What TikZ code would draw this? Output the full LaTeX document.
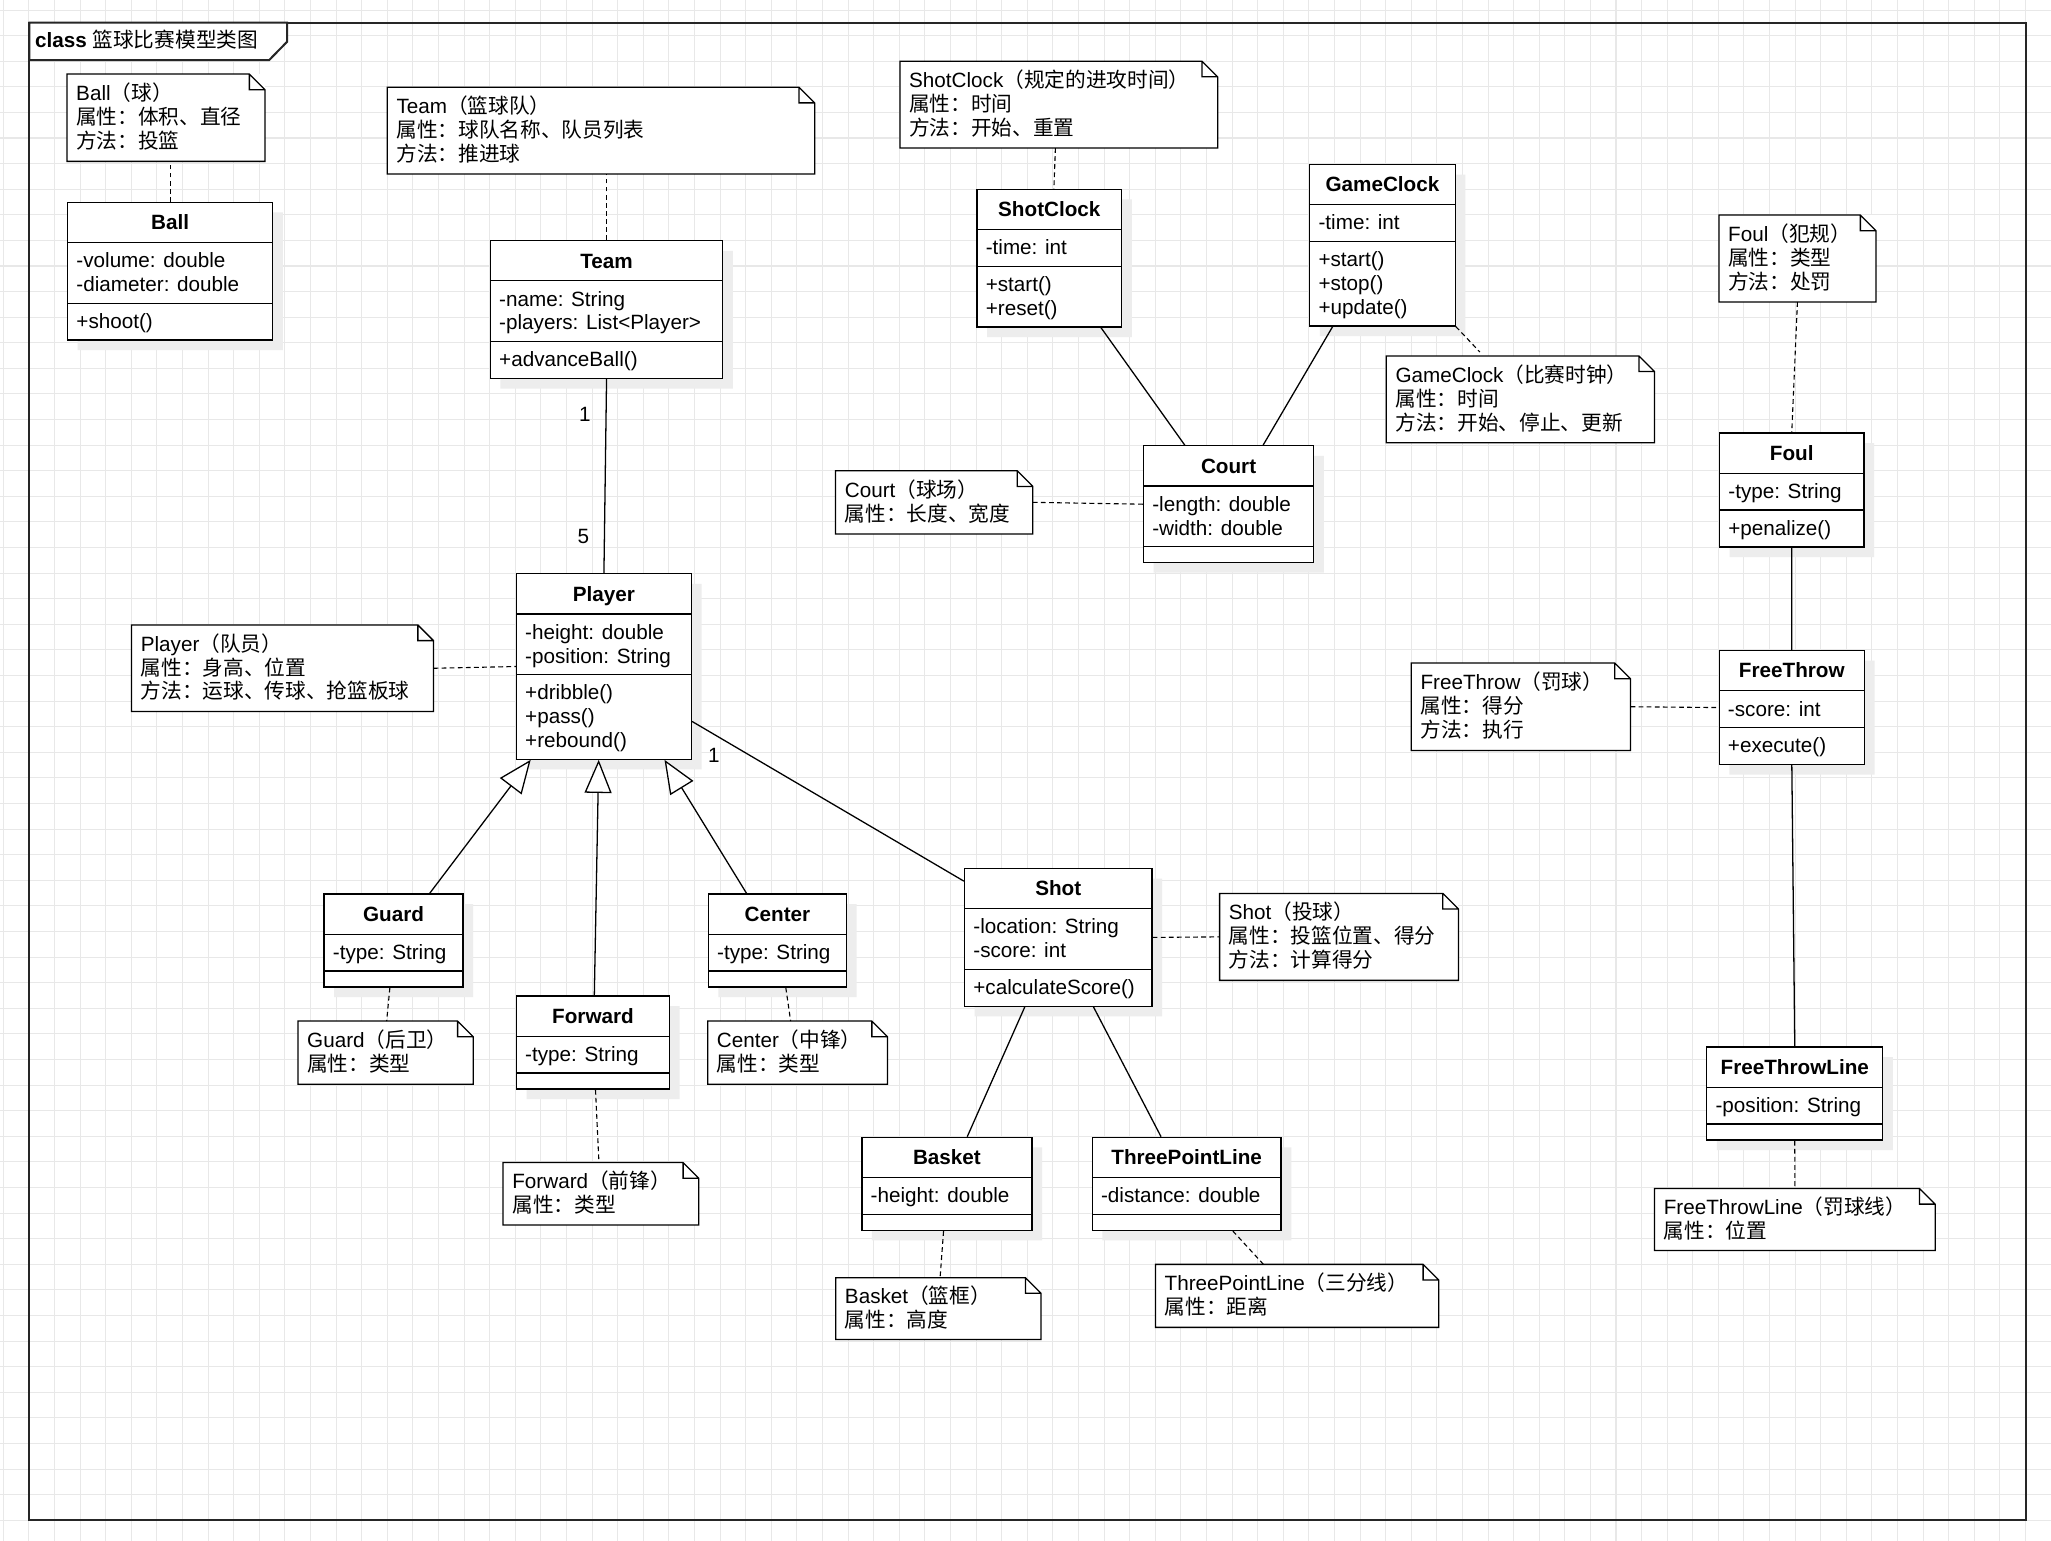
\documentclass[tikz,border=0pt]{standalone}
\usepackage{fontspec}
\setmainfont{Liberation Sans}
\newfontfamily\zh{Noto Sans CJK SC}
\usetikzlibrary{arrows.meta,positioning,calc,shapes.multipart,shadows}
\newcommand{\linestrut}{\rule[-2.75pt]{0pt}{12.95pt}}
\newcommand{\headstrut}{\rule[-3.4pt]{0pt}{14.73pt}}
\newcommand{\emptystrut}{\rule{0pt}{1.6pt}}

\begin{document}
\begin{tikzpicture}[x=0.025cm, y=-0.025cm,
	every node/.style={font=\fontsize{11.24pt}{12.95pt}\selectfont},
	umlclass/.style={draw, fill=white, line width=0.7pt, anchor=north west,
		rectangle split, rectangle split parts=3,
		rectangle split part align={center,left,left},
		align=left, inner xsep=4.8pt, inner ysep=3.2pt,
		drop shadow={shadow xshift=5.5pt, shadow yshift=-5.5pt, fill=black!7, opacity=1}},
	notebox/.style={fill=white, anchor=north west, align=left, inner xsep=0.17cm, inner ysep=0pt},
	noteline/.style={line width=0.7pt},
	link/.style={line width=0.7pt},
	notelink/.style={line width=0.6pt, dash pattern=on 2.6pt off 1.8pt},
	inherit/.style={line width=0.7pt, -{Triangle[length=18pt, width=14.7pt, fill=white]}},
	mult/.style={inner sep=0pt},
	gridline/.style={black!9, line width=0.55pt}]
	
	\path[use as bounding box, fill=white] (0,0) rectangle (1568,1178);
	
	% grid
	\foreach \i in {0,...,80}
		\draw[gridline] ({2.52+19.57*\i},0) -- ({2.52+19.57*\i},1178);
	\foreach \i in {0,...,59}
		\draw[gridline] (0,{7.65+19.57*\i}) -- (1568,{7.65+19.57*\i});
	
	% frame
	\draw[black!85, line width=1.1pt] (22.4,17.3) rectangle (1548.7,1162);
	\filldraw[fill=white, draw=black!85, line width=1.1pt] (22.4,17.3) -- (22.4,45.9) -- (205.8,45.9) -- (219.5,31.9) -- (219.5,17.3) -- cycle;
	\node[anchor=west, inner sep=0pt] (frametitle) at (26.6,30.6) {\textbf{class} {\zh 篮球比赛模型类图}};
	
	% classes
	\node[umlclass, minimum width=3.92cm] (ball) at (51.2,154.2)
		{\headstrut\textbf{Ball}
		\nodepart{two}\linestrut-volume: double\\\linestrut-diameter: double
		\nodepart{three}\linestrut+shoot()};
	\node[umlclass, minimum width=4.44cm] (team) at (374.4,183.5)
		{\headstrut\textbf{Team}
		\nodepart{two}\linestrut-name: String\\\linestrut-players: List<Player>
		\nodepart{three}\linestrut+advanceBall()};
	\node[umlclass, minimum width=3.345cm] (player) at (394.3,438.2)
		{\headstrut\textbf{Player}
		\nodepart{two}\linestrut-height: double\\\linestrut-position: String
		\nodepart{three}\linestrut+dribble()\\\linestrut+pass()\\\linestrut+rebound()};
	\node[umlclass, minimum width=2.6525cm] (guard) at (247.3,683)
		{\headstrut\textbf{Guard}
		\nodepart{two}\linestrut-type: String
		\nodepart{three}\emptystrut};
	\node[umlclass, minimum width=2.9275cm] (forward) at (394.3,761)
		{\headstrut\textbf{Forward}
		\nodepart{two}\linestrut-type: String
		\nodepart{three}\emptystrut};
	\node[umlclass, minimum width=2.6425cm] (center) at (541,683)
		{\headstrut\textbf{Center}
		\nodepart{two}\linestrut-type: String
		\nodepart{three}\emptystrut};
	\node[umlclass, minimum width=3.5825cm] (shot) at (736.9,663.5)
		{\headstrut\textbf{Shot}
		\nodepart{two}\linestrut-location: String\\\linestrut-score: int
		\nodepart{three}\linestrut+calculateScore()};
	\node[umlclass, minimum width=3.2525cm] (basket) at (658.4,869)
		{\headstrut\textbf{Basket}
		\nodepart{two}\linestrut-height: double
		\nodepart{three}\emptystrut};
	\node[umlclass, minimum width=3.61cm] (tpl) at (834.5,869)
		{\headstrut\textbf{ThreePointLine}
		\nodepart{two}\linestrut-distance: double
		\nodepart{three}\emptystrut};
	\node[umlclass, minimum width=2.765cm] (shotclock) at (746.4,144.2)
		{\headstrut\textbf{ShotClock}
		\nodepart{two}\linestrut-time: int
		\nodepart{three}\linestrut+start()\\\linestrut+reset()};
	\node[umlclass, minimum width=2.78cm] (gameclock) at (1000.8,125.2)
		{\headstrut\textbf{GameClock}
		\nodepart{two}\linestrut-time: int
		\nodepart{three}\linestrut+start()\\\linestrut+stop()\\\linestrut+update()};
	\node[umlclass, minimum width=3.2525cm] (court) at (873.7,340.3)
		{\headstrut\textbf{Court}
		\nodepart{two}\linestrut-length: double\\\linestrut-width: double
		\nodepart{three}\emptystrut};
	\node[umlclass, minimum width=2.76cm] (foul) at (1314.1,330.6)
		{\headstrut\textbf{Foul}
		\nodepart{two}\linestrut-type: String
		\nodepart{three}\linestrut+penalize()};
	\node[umlclass, minimum width=2.7775cm] (freethrow) at (1313.8,496.9)
		{\headstrut\textbf{FreeThrow}
		\nodepart{two}\linestrut-score: int
		\nodepart{three}\linestrut+execute()};
	\node[umlclass, minimum width=3.365cm] (ftl) at (1304.3,800)
		{\headstrut\textbf{FreeThrowLine}
		\nodepart{two}\linestrut-position: String
		\nodepart{three}\emptystrut};
	
	% notes
	\node[notebox, text width=3.43cm, minimum height=1.655cm] (ballnote) at (51.2,56.6)
		{\linestrut Ball{\zh（球）}\\\linestrut{\zh 属性：体积、直径}\\\linestrut{\zh 方法：投篮}};
	\node[notebox, text width=7.8125cm, minimum height=1.645cm] (teamnote) at (296.1,66.7)
		{\linestrut Team{\zh（篮球队）}\\\linestrut{\zh 属性：球队名称、队员列表}\\\linestrut{\zh 方法：推进球}};
	\node[notebox, text width=5.415cm, minimum height=1.64cm] (playernote) at (100.6,477.8)
		{\linestrut Player{\zh（队员）}\\\linestrut{\zh 属性：身高、位置}\\\linestrut{\zh 方法：运球、传球、抢篮板球}};
	\node[notebox, text width=2.995cm, minimum height=1.195cm] (guardnote) at (227.8,780.6)
		{\linestrut Guard{\zh（后卫）}\\\linestrut{\zh 属性：类型}};
	\node[notebox, text width=3.385cm, minimum height=1.18cm] (forwardnote) at (384.6,888.8)
		{\linestrut Forward{\zh（前锋）}\\\linestrut{\zh 属性：类型}};
	\node[notebox, text width=3.0825cm, minimum height=1.195cm] (centernote) at (541,780.6)
		{\linestrut Center{\zh（中锋）}\\\linestrut{\zh 属性：类型}};
	\node[notebox, text width=4.21cm, minimum height=1.6475cm] (shotnote) at (932.4,683)
		{\linestrut Shot{\zh（投球）}\\\linestrut{\zh 属性：投篮位置、得分}\\\linestrut{\zh 方法：计算得分}};
	\node[notebox, text width=3.57cm, minimum height=1.1675cm] (basketnote) at (638.9,976.8)
		{\linestrut Basket{\zh（篮框）}\\\linestrut{\zh 属性：高度}};
	\node[notebox, text width=5.06cm, minimum height=1.19cm] (tplnote) at (883.3,966.6)
		{\linestrut ThreePointLine{\zh（三分线）}\\\linestrut{\zh 属性：距离}};
	\node[notebox, text width=5.7175cm, minimum height=1.645cm] (shotclocknote) at (688,46.8)
		{\linestrut ShotClock{\zh（规定的进攻时间）}\\\linestrut{\zh 属性：时间}\\\linestrut{\zh 方法：开始、重置}};
	\node[notebox, text width=3.415cm, minimum height=1.1925cm] (courtnote) at (638.8,359.9)
		{\linestrut Court{\zh（球场）}\\\linestrut{\zh 属性：长度、宽度}};
	\node[notebox, text width=4.7725cm, minimum height=1.645cm] (gameclocknote) at (1059.8,272.1)
		{\linestrut GameClock{\zh（比赛时钟）}\\\linestrut{\zh 属性：时间}\\\linestrut{\zh 方法：开始、停止、更新}};
	\node[notebox, text width=2.6475cm, minimum height=1.6475cm] (foulnote) at (1314.1,164.4)
		{\linestrut Foul{\zh（犯规）}\\\linestrut{\zh 属性：类型}\\\linestrut{\zh 方法：处罚}};
	\node[notebox, text width=3.835cm, minimum height=1.655cm] (ftnote) at (1078.9,506.9)
		{\linestrut FreeThrow{\zh（罚球）}\\\linestrut{\zh 属性：得分}\\\linestrut{\zh 方法：执行}};
	\node[notebox, text width=5.0075cm, minimum height=1.17cm] (ftlnote) at (1264.9,908.6)
		{\linestrut FreeThrowLine{\zh（罚球线）}\\\linestrut{\zh 属性：位置}};
	
	% note outlines with folded corner
	\foreach \n in {ballnote,teamnote,playernote,guardnote,forwardnote,centernote,shotnote,basketnote,
		tplnote,shotclocknote,courtnote,gameclocknote,foulnote,ftnote,ftlnote}
		\draw[noteline] (\n.south west) -- (\n.north west) -- ([xshift=-8.5pt]\n.north east)
			-- ([yshift=-8.5pt]\n.north east) -- (\n.south east) -- cycle
			([xshift=-8.5pt]\n.north east) |- ([yshift=-8.5pt]\n.north east);
	
	% connectors
	\draw[notelink] (ball.north) -- (ball.north |- ballnote.south);
	\draw[notelink] (team.north) -- (team.north |- teamnote.south);
	\draw[link] (team.south) -- (player.north)
		node[mult, pos=0.18, left=8pt] (mteam) {1}
		node[mult, pos=0.81, left=8pt] (mplayer) {5};
	\draw[notelink] (playernote.east) -- (player.west);
	
	\draw[inherit] ($(guard.north)+(27.6,0)$) -- ($(player.south)+(-56,0)$);
	\draw[inherit] ($(forward.north)+(1,0)$) -- ($(player.south)+(-4,0)$);
	\draw[inherit] ($(center.north)+(-23.6,0)$) -- ($(player.south)+(46.3,0)$);
	\draw[notelink] ($(guard.south)+(-2.8,0)$) -- ($(guardnote.north)+(0.8,0)$);
	\draw[notelink] ($(forward.south)+(1.9,0)$) -- ($(forwardnote.north)+(-1.5,0)$);
	\draw[notelink] ($(center.south)+(6.4,0)$) -- ($(centernote.north)+(-5.3,0)$);
	
	\draw[link] ($(player.east)+(0,42)$) -- ($(shot.west)+(0,-43)$)
		node[mult, pos=0.08, below=7.3pt] (mshot) {1};
	\draw[notelink] (shot.east) -- (shotnote.west);
	\draw[link] ($(shot.south)+(-25.6,0)$) -- ($(basket.north)+(15.5,0)$);
	\draw[link] ($(shot.south)+(26.9,0)$) -- ($(tpl.north)+(-19.6,0)$);
	\draw[notelink] ($(basket.south)+(-2.6,0)$) -- ($(basketnote.north)+(1.3,0)$);
	\draw[notelink] ($(tpl.south)+(35.3,0)$) -- ($(tplnote.north)+(-25.7,0)$);
	
	\draw[notelink] ($(shotclocknote.south)+(-2.6,0)$) -- ($(shotclock.north)+(3.5,0)$);
	\draw[link] ($(shotclock.south)+(39.5,0)$) -- ($(court.north)+(-33.5,0)$);
	\draw[link] ($(gameclock.south)+(-38.1,0)$) -- ($(court.north)+(26.4,0)$);
	\draw[notelink] (courtnote.east) -- (court.west);
	\draw[notelink] (gameclock.south east) -- ($(gameclocknote.north)+(-31,-3)$);
	
	\draw[notelink] (foulnote.south) -- (foul.north);
	\draw[link] (foul.south) -- (freethrow.north);
	\draw[notelink] (ftnote.east) -- (freethrow.west);
	\draw[link] (freethrow.south) -- (ftl.north);
	\draw[notelink] (ftl.south) -- (ftlnote.north);
\end{tikzpicture}
\end{document}
